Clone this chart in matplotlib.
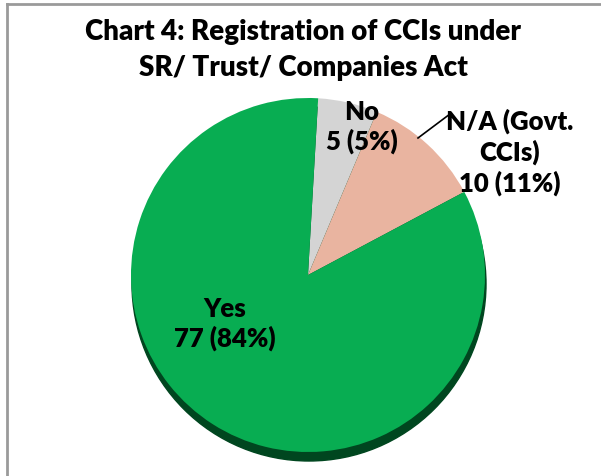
import matplotlib
matplotlib.use("Agg")
import matplotlib.pyplot as plt
from matplotlib.patches import Circle

categories = ["No", "N/A (Govt.\nCCIs)", "Yes"]
values = [5, 10, 77]
percents = [5, 11, 84]
colors = ["#d4d4d4", "#e9b4a0", "#08ad52"]

W, H = 601, 476
fig = plt.figure(figsize=(W / 100, H / 100), dpi=100)
ax = fig.add_axes([0, 0, 1, 1])
ax.set_xlim(0, W)
ax.set_ylim(0, H)
ax.set_aspect("equal")
ax.axis("off")

cx, cy, r = 308, H - 275, 177
# 3D-like shadow
ax.add_patch(Circle((cx + 1, cy - 9), r, color="#00461f", zorder=1))
ax.pie(values, colors=colors, startangle=86.7, counterclock=False,
       center=(cx, cy), radius=r, frame=True,
       wedgeprops=dict(linewidth=0, zorder=2))
ax.set_xlim(0, W)
ax.set_ylim(0, H)
ax.axis("off")

font = ["Lato", "DejaVu Sans"]
fs = 18.5
tkw = dict(ha="center", va="center", fontsize=fs, fontweight="heavy",
           family=font, color="black", linespacing=1.25, zorder=5)

ax.text(362, H - 127, f"{categories[0]}\n{values[0]} ({percents[0]}%)", **tkw)
ax.text(510, H - 152, f"{categories[1]}\n{values[1]} ({percents[1]}%)", **tkw)
ax.text(225, H - 324, f"{categories[2]}\n{values[2]} ({percents[2]}%)", **tkw)
ax.plot([418, 450], [H - 138, H - 114], color="black", lw=1.2, zorder=5)

fig.text(303 / W, 1 - 50 / H,
         "Chart 4: Registration of CCIs under\nSR/ Trust/ Companies Act",
         ha="center", va="center", fontsize=20, fontweight="heavy",
         family=font, linespacing=1.45)

# chart border (top and left visible)
ax.plot([7, W], [H - 4, H - 4], color="#9a9a9a", lw=2, zorder=6, clip_on=False)
ax.plot([7, 7], [H - 4, 0], color="#9a9a9a", lw=2, zorder=6, clip_on=False)

fig.savefig("out.png", dpi=100)
